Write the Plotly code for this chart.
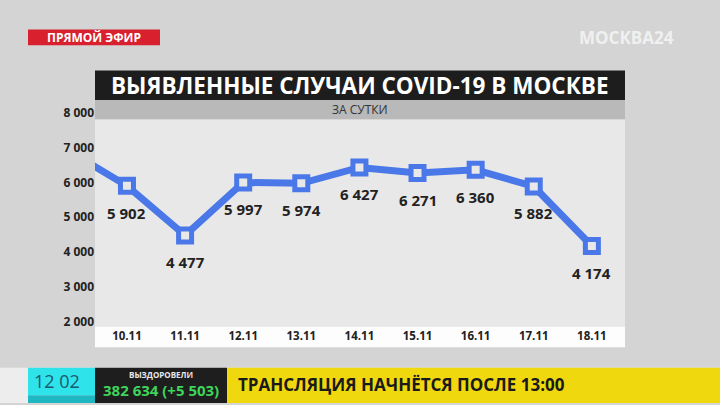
import plotly.graph_objects as go

# Daily detected COVID-19 cases in Moscow (first point is cut off by the left edge)
dates = ["09.11", "10.11", "11.11", "12.11", "13.11", "14.11", "15.11", "16.11", "17.11", "18.11"]
cases = [6897, 5902, 4477, 5997, 5974, 6427, 6271, 6360, 5882, 4174]
labelled = [False, True, True, True, True, True, True, True, True, True]

y_ticks = [2000, 3000, 4000, 5000, 6000, 7000, 8000]

W, H = 720, 405
FONT = "Open Sans"
BLUE = "#4a78e8"


def px(x):
    return x / W


def py(y):
    return 1 - y / H


def rect(x0, y0, x1, y1, color):
    return dict(type="rect", xref="paper", yref="paper", layer="below",
                x0=px(x0), x1=px(x1), y0=py(y1), y1=py(y0),
                fillcolor=color, line=dict(width=0))


def text(x, y, s, size, color, xanchor="center", bold=True):
    return dict(xref="paper", yref="paper", x=px(x), y=py(y), showarrow=False,
                text=f"<b>{s}</b>" if bold else s, xanchor=xanchor, yanchor="middle",
                font=dict(family=FONT, size=size, color=color))


def fmt(v):
    return f"{v:,}".replace(",", " ")


fig = go.Figure()
fig.add_trace(go.Scatter(
    x=dates, y=cases, mode="lines+markers",
    line=dict(color=BLUE, width=7),
    marker=dict(symbol="square", size=13, color="#e8e8e8",
                line=dict(color=BLUE, width=5)),
    hoverinfo="skip", showlegend=False,
))

shapes = [
    rect(95, 65, 625, 95, "#1d1d1d"),      # title box
    rect(95, 95, 625, 115, "#b9b9b9"),     # subtitle strip
    rect(95, 115, 625, 327, "#e8e8e8"),    # plot panel
    rect(95, 327, 625, 348, "#fdfdfd"),    # date band
    rect(28, 23, 160, 39, "#d8202e"),      # live badge
    rect(0, 369, 720, 405, "#ededed"),
    rect(28, 369, 95, 397, "#2fe3ea"),     # clock box
    rect(28, 397, 95, 405, "#1fb8c2"),
    rect(95, 369, 227, 405, "#1e1e1e"),    # recovered box
    rect(227, 369, 720, 405, "#f0d80f"),   # news line
]

annotations = [
    text(360, 80, "ВЫЯВЛЕННЫЕ СЛУЧАИ COVID-19 В МОСКВЕ", 22.5, "#ffffff"),
    text(360, 105, "ЗА СУТКИ", 12, "#333333", bold=False),
    text(94, 31, "ПРЯМОЙ ЭФИР", 12, "#ffffff"),
    text(626, 31, "МОСКВА24", 17, "rgba(245,245,245,0.9)"),
    text(82, 382, "12 02", 18, "#1a5a70", xanchor="right", bold=False),
    text(161, 376, "ВЫЗДОРОВЕЛИ", 8, "#e8e8e8"),
    text(161, 392, "382 634 (+5 503)", 15, "#3fd45a"),
    text(236, 386, "ТРАНСЛЯЦИЯ НАЧНЁТСЯ ПОСЛЕ 13:00", 17, "#1a1a1a", xanchor="left"),
]

# value labels under each point; category axis positions given by index
for i, (v, show) in enumerate(zip(cases, labelled)):
    if show:
        annotations.append(dict(
            x=i, y=v, xref="x", yref="y", showarrow=False, yshift=-27,
            text=f"<b>{fmt(v)}</b>", font=dict(family=FONT, size=15, color="#222222"),
        ))

fig.update_layout(
    width=W, height=H,
    margin=dict(l=0, r=0, t=0, b=0),
    paper_bgcolor="#d4d4d4",
    plot_bgcolor="rgba(0,0,0,0)",
    separators=". ",
    shapes=shapes,
    annotations=annotations,
    xaxis=dict(
        type="category", domain=[px(95), px(625)], range=[0.45, 9.57],
        showgrid=False, zeroline=False, showline=False, ticks="",
        tickfont=dict(family=FONT, size=11.5, color="#222222"),
        tickprefix="<b>", ticksuffix="</b>",
    ),
    yaxis=dict(
        domain=[py(328), py(106)], range=[1830, 8057],
        tickvals=y_ticks, ticktext=[f"<b>{fmt(v)}</b>" for v in y_ticks],
        showgrid=False, zeroline=False, showline=False, ticks="",
        tickfont=dict(family=FONT, size=12, color="#222222"),
    ),
)

fig.write_html(
    "out.html",
    config={"displayModeBar": False},
    post_script="document.body.style.margin='0';document.body.style.overflow='hidden';",
)
